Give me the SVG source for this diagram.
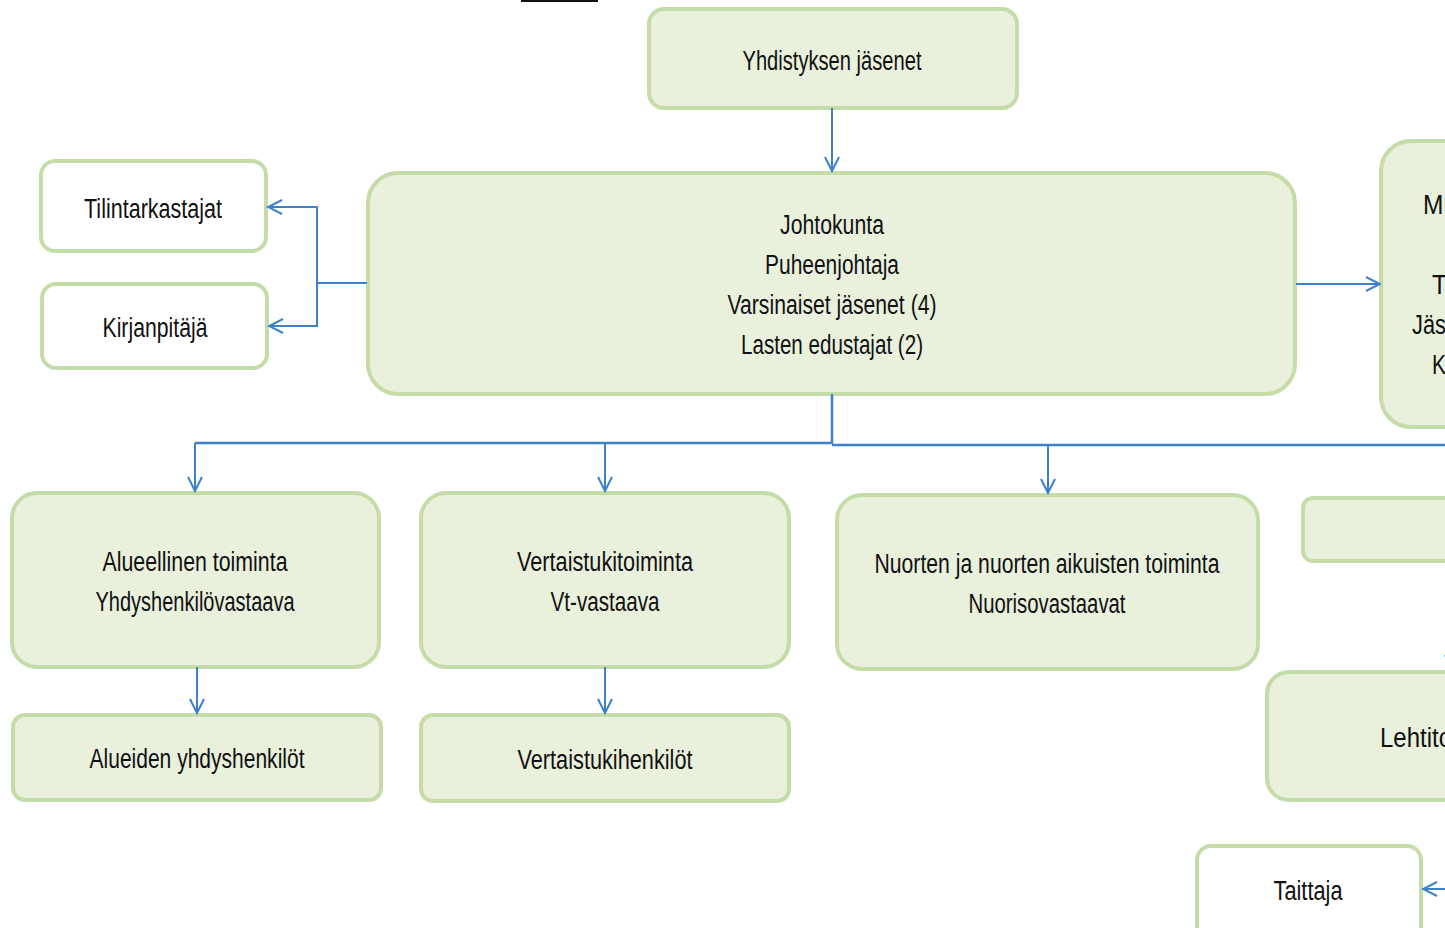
<svg xmlns="http://www.w3.org/2000/svg" width="1445" height="928" viewBox="0 0 1445 928">
<style>
.box{fill:#e9f0dc;stroke:#c6dca8;stroke-width:4}
.wbox{fill:#ffffff;stroke:#c6dca8;stroke-width:4}
.t{font-family:"Liberation Sans Narrow","Liberation Sans",Arial,sans-serif;font-size:27px;fill:#111;text-anchor:middle}
.ts{font-family:"Liberation Sans Narrow","Liberation Sans",Arial,sans-serif;font-size:27px;fill:#111;text-anchor:start}
.c{fill:none;stroke:#3d80cc;stroke-width:2}
</style>
<defs>
<marker id="arr" markerUnits="userSpaceOnUse" markerWidth="18" markerHeight="18" viewBox="0 0 18 18" refX="16" refY="9" orient="auto">
<path d="M2,2 L16,9 L2,16" fill="none" stroke="#3d80cc" stroke-width="2"/>
</marker>
</defs>
<rect x="0" y="0" width="1445" height="928" fill="#ffffff"/>
<rect x="521" y="0" width="77" height="2" fill="#111"/>

<g id="n-yhdistys"><rect class="box" x="649" y="9" width="368" height="99" rx="15"/><text class="t" x="832" y="70" textLength="179" lengthAdjust="spacingAndGlyphs">Yhdistyksen jäsenet</text></g>

<g id="n-johtokunta"><rect class="box" x="368" y="173" width="927" height="221" rx="30"/>
<text class="t" x="832" y="234" textLength="104" lengthAdjust="spacingAndGlyphs">Johtokunta</text>
<text class="t" x="832" y="274" textLength="134" lengthAdjust="spacingAndGlyphs">Puheenjohtaja</text>
<text class="t" x="832" y="314" textLength="209" lengthAdjust="spacingAndGlyphs">Varsinaiset jäsenet  (4)</text>
<text class="t" x="832" y="354" textLength="182" lengthAdjust="spacingAndGlyphs">Lasten edustajat (2)</text></g>

<g id="n-tilintarkastajat"><rect class="wbox" x="41" y="161" width="225" height="90" rx="14"/><text class="t" x="153" y="218" textLength="138" lengthAdjust="spacingAndGlyphs">Tilintarkastajat</text></g>
<g id="n-kirjanpitaja"><rect class="wbox" x="42" y="284" width="225" height="84" rx="14"/><text class="t" x="155" y="337" textLength="105" lengthAdjust="spacingAndGlyphs">Kirjanpitäjä</text></g>

<g id="n-oikea"><rect class="box" x="1381" y="141" width="120" height="286" rx="30"/>
<text class="ts" x="1423" y="214" textLength="34" lengthAdjust="spacingAndGlyphs">Mu</text>
<text class="ts" x="1432" y="294" textLength="26" lengthAdjust="spacingAndGlyphs">Ta</text>
<text class="ts" x="1412" y="334" textLength="46" lengthAdjust="spacingAndGlyphs">Jäse</text>
<text class="ts" x="1432" y="374" textLength="14" lengthAdjust="spacingAndGlyphs">K</text></g>

<g id="n-alueellinen"><rect class="box" x="12" y="493" width="367" height="174" rx="25"/>
<text class="t" x="195" y="571" textLength="185" lengthAdjust="spacingAndGlyphs">Alueellinen toiminta</text>
<text class="t" x="195" y="611" textLength="199" lengthAdjust="spacingAndGlyphs">Yhdyshenkilövastaava</text></g>

<g id="n-vertaistuki"><rect class="box" x="421" y="493" width="368" height="174" rx="25"/>
<text class="t" x="605" y="571" textLength="176" lengthAdjust="spacingAndGlyphs">Vertaistukitoiminta</text>
<text class="t" x="605" y="611" textLength="109" lengthAdjust="spacingAndGlyphs">Vt-vastaava</text></g>

<g id="n-nuoret"><rect class="box" x="837" y="495" width="421" height="174" rx="25"/>
<text class="t" x="1047" y="573" textLength="345" lengthAdjust="spacingAndGlyphs">Nuorten ja nuorten aikuisten toiminta</text>
<text class="t" x="1047" y="613" textLength="157" lengthAdjust="spacingAndGlyphs">Nuorisovastaavat</text></g>

<g id="n-oikea2"><rect class="box" x="1303" y="498" width="160" height="63" rx="10"/></g>

<g id="n-alueiden"><rect class="box" x="13" y="715" width="368" height="85" rx="12"/><text class="t" x="197" y="768" textLength="215" lengthAdjust="spacingAndGlyphs">Alueiden yhdyshenkilöt</text></g>
<g id="n-vertaistukihenkilot"><rect class="box" x="421" y="715" width="368" height="86" rx="12"/><text class="t" x="605" y="769" textLength="175" lengthAdjust="spacingAndGlyphs">Vertaistukihenkilöt</text></g>

<g id="n-lehti"><rect class="box" x="1267" y="672" width="220" height="128" rx="22"/><text class="ts" x="1380" y="747" textLength="72" lengthAdjust="spacingAndGlyphs">Lehtito</text></g>

<g id="n-taittaja"><rect class="wbox" x="1197" y="846" width="224" height="100" rx="14"/><text class="t" x="1308" y="900" textLength="69" lengthAdjust="spacingAndGlyphs">Taittaja</text></g>

<g id="connectors">
<path class="c" d="M832,108 V171" marker-end="url(#arr)"/>
<path class="c" d="M367,283 H317 V207 H268" marker-end="url(#arr)"/>
<path class="c" d="M317,283 V326 H269" marker-end="url(#arr)"/>
<path class="c" d="M1296,284 H1380" marker-end="url(#arr)"/>
<path class="c" d="M832,394 V443 H195" style="stroke-width:2.5"/>
<path class="c" d="M832,445 H1445" style="stroke-width:2.5"/>
<path class="c" d="M195,443 V491" marker-end="url(#arr)"/>
<path class="c" d="M605,443 V491" marker-end="url(#arr)"/>
<path class="c" d="M1048,445 V493" marker-end="url(#arr)"/>
<path class="c" d="M197,667 V713" marker-end="url(#arr)"/>
<path class="c" d="M605,667 V713" marker-end="url(#arr)"/>
<path class="c" d="M1452,630 V669" marker-end="url(#arr)"/>
<path class="c" d="M1450,889 H1423" marker-end="url(#arr)"/>
</g>
</svg>
